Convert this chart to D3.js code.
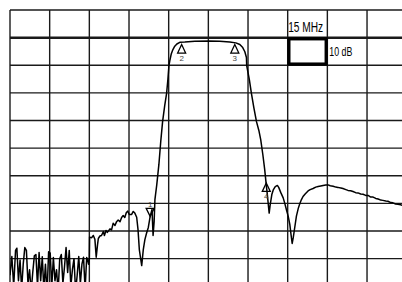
<!DOCTYPE html>
<html><head><meta charset="utf-8">
<script src="https://cdn.jsdelivr.net/npm/d3@7"></script>
<style>html,body{margin:0;padding:0;background:#fff;overflow:hidden}</style>
</head><body><svg id="c" width="402" height="282"></svg>
<script>
// Frequency (MHz, 15 MHz/div) and level (dB, 10 dB/div, 0 dB = reference line)
const freqMHz = [
 0,0.7,1.4,2.1,2.6,3.2,3.8,4.4,5.0,5.6,6.2,6.8,7.4,8.0,8.6,9.2,9.8,10.4,11.0,11.6,
 12.2,12.8,13.4,14.0,14.6,15.2,15.8,16.4,17.0,17.6,18.2,18.8,19.4,20.0,20.6,21.2,21.8,22.4,23.0,23.6,
 24.2,24.8,25.4,26.0,26.6,27.2,27.8,28.4,29.0,29.4,29.7,30.0,
 30.1,30.9,31.5,32.1,32.6,33.1,33.4,34.0,34.6,35.3,35.7,36.3,36.8,37.8,38.4,39.0,39.7,40.3,40.9,41.6,
 42.2,42.8,43.4,44.0,44.5,45.1,46.0,46.6,47.2,47.9,48.4,48.9,49.8,50.4,51.0,51.6,52.3,53.0,53.7,54.1,54.5,54.8,
 55.5,56.3,57.0,57.7,58.5,59.2,59.7,60.1,60.5,61.0,61.6,62.3,63.1,64.2,66.1,69.9,75.2,79.3,83.1,85.4,
 86.9,88.0,88.8,89.4,89.5,90.5,91.3,92.2,93.2,94.1,94.8,95.6,96.3,96.8,97.3,98.0,98.4,99.0,99.6,100.3,
 101.1,101.6,102.4,103.3,103.9,104.5,105.2,105.8,106.3,106.7,107.1,107.5,108.3,109.0,109.6,110.2,110.8,111.6,112.7,113.5,
 114.6,115.6,116.5,117.5,118.4,119.4,120.3,121.1,122.2,123.2,124.0,125.1,125.9,127.0,127.8,128.8,129.7,130.7,131.6,132.6,
 133.5,134.5,135.4,136.4,137.3,138.3,139.2,140.2,141.0,142.1,142.9,144.0,144.8,145.8,146.7,147.7,148.5
];
const levelDb = [
 -86,-79.2,-90,-77,-76.2,-88,-80.5,-91,-82,-76,-77,-89,-84,-92,-85,-79,-78.5,-90,-77.8,-88,
 -79.3,-91,-82,-93,-77.5,-78,-90,-79.6,-88,-84,-92,-80,-78.5,-89,-83,-76,-85,-77,-90,-84,
 -80,-92,-86,-79.2,-89,-82,-79.5,-91,-79.6,-80.5,-82,-80,
 -72.2,-72.4,-71.6,-73,-79.5,-74.9,-72.7,-71.8,-71.6,-70.2,-71.6,-69.8,-70.5,-69.2,-69.6,-67.2,-68.0,-66.6,-66.0,-66.6,
 -65.1,-64.4,-65.1,-63.3,-62.8,-64.0,-64.0,-62.9,-63.5,-65.0,-69.4,-76.7,-82.5,-76.7,-73.1,-70.9,-68.7,-64.7,-62.2,-71.6,-66.6,-58.6,
 -53.2,-45.9,-37.6,-30.4,-24.6,-20.3,-15.2,-10.1,-8.0,-5.8,-4.3,-3.1,-2.3,-1.7,-1.6,-1.3,-1.2,-1.3,-1.6,-1.9,
 -2.5,-3.6,-5.1,-7.2,-10.1,-15.2,-20.3,-25.3,-30.4,-33.6,-36.9,-42.3,-47.7,-52.4,-56.8,-63.5,-60.4,-56.8,-55.0,-53.9,
 -53.5,-54.2,-56.1,-58.0,-60.0,-62.2,-64.7,-67.6,-71.6,-74.5,-72.4,-69.8,-64.6,-61.8,-60.0,-58.6,-57.5,-56.6,-55.5,-55.0,
 -54.6,-54.1,-53.9,-53.7,-53.5,-53.3,-53.3,-53.6,-53.8,-54.1,-54.2,-54.4,-54.6,-55.0,-55.3,-55.4,-55.7,-56.1,-56.2,-56.6,
 -56.7,-57.1,-57.1,-57.7,-57.7,-58.2,-58.4,-58.8,-58.9,-59.1,-59.2,-59.7,-59.8,-60.2,-60.3,-60.5,-60.7
];
const markerIds = ["1","2","3","4"];
const markerFreq = [53.0, 64.9, 85.0, 96.9];
const markerLevel = [-64.7, -2.5, -2.5, -52.6];
const markerDir = ["down","up","up","up"];
const spanLabel = "15 MHz";
const scaleLabel = "10 dB";
const xTicks = d3.range(0, 151, 15);
const yTicks = d3.range(10, -91, -10);

const svg = d3.select("#c");
const x = d3.scaleLinear().domain([0,150]).range([10,406.7]);
const y = d3.scaleLinear().domain([10,-90]).range([10,286.3]);

svg.append("defs").append("clipPath").attr("id","clip")
  .append("rect").attr("x",10).attr("y",10).attr("width",400).attr("height",280);

const g = svg.append("g");
// vertical grid
g.selectAll("line.v").data(xTicks).join("line").attr("class","v")
  .attr("x1",d=>x(d)).attr("x2",d=>x(d)).attr("y1",y(10)).attr("y2",y(-90))
  .attr("stroke","#1a1a1a").attr("stroke-width",1.4);
// horizontal grid
g.selectAll("line.h").data(yTicks).join("line").attr("class","h")
  .attr("y1",d=>y(d)).attr("y2",d=>y(d)).attr("x1",x(0)).attr("x2",x(150))
  .attr("stroke","#1a1a1a").attr("stroke-width",d=>d===0?2.5:1.4);

// scale box
const bx = x(105), by = y(0);
g.append("rect").attr("x",bx+1.2).attr("y",by+1.2)
  .attr("width",x(120)-x(105)-2.4).attr("height",y(-10)-y(0)-2.4)
  .attr("fill","#fff").attr("stroke","#000").attr("stroke-width",3.2);

const font = "'Liberation Sans Narrow','Liberation Sans','DejaVu Sans Condensed',sans-serif";
g.append("text").attr("x",x(105)+0.5).attr("y",31.8).text(spanLabel)
  .attr("font-family",font).attr("font-size",14.5).attr("fill","#000")
  .attr("textLength",35).attr("lengthAdjust","spacingAndGlyphs");
g.append("text").attr("x",x(120)+2).attr("y",55.5).text(scaleLabel)
  .attr("font-family",font).attr("font-size",13.5).attr("fill","#000")
  .attr("textLength",23).attr("lengthAdjust","spacingAndGlyphs");

// trace
const pts = freqMHz.map((f,i)=>[f, levelDb[i]]);
const line = d3.line().x(d=>x(d[0])).y(d=>y(d[1]));
svg.append("path").attr("clip-path","url(#clip)").datum(pts).attr("d",line)
  .attr("fill","none").attr("stroke","#000").attr("stroke-width",1.5).attr("stroke-linejoin","round");

// markers
markerIds.forEach((id,i)=>{
  const mx = x(markerFreq[i]), my = y(markerLevel[i]);
  const up = markerDir[i]==="up";
  const h = up ? 8.5 : -8, w = 4;
  svg.append("path").attr("d",`M${mx},${my}L${mx-w},${my+h}L${mx+w},${my+h}Z`)
    .attr("fill","none").attr("stroke","#000").attr("stroke-width",1.3);
  svg.append("text").attr("x",mx).attr("y", up ? my+h+7.5 : my+h-1.5)
    .attr("text-anchor","middle").attr("font-family",font).attr("font-size",8).attr("fill","#444").text(id);
});
</script></body></html>
